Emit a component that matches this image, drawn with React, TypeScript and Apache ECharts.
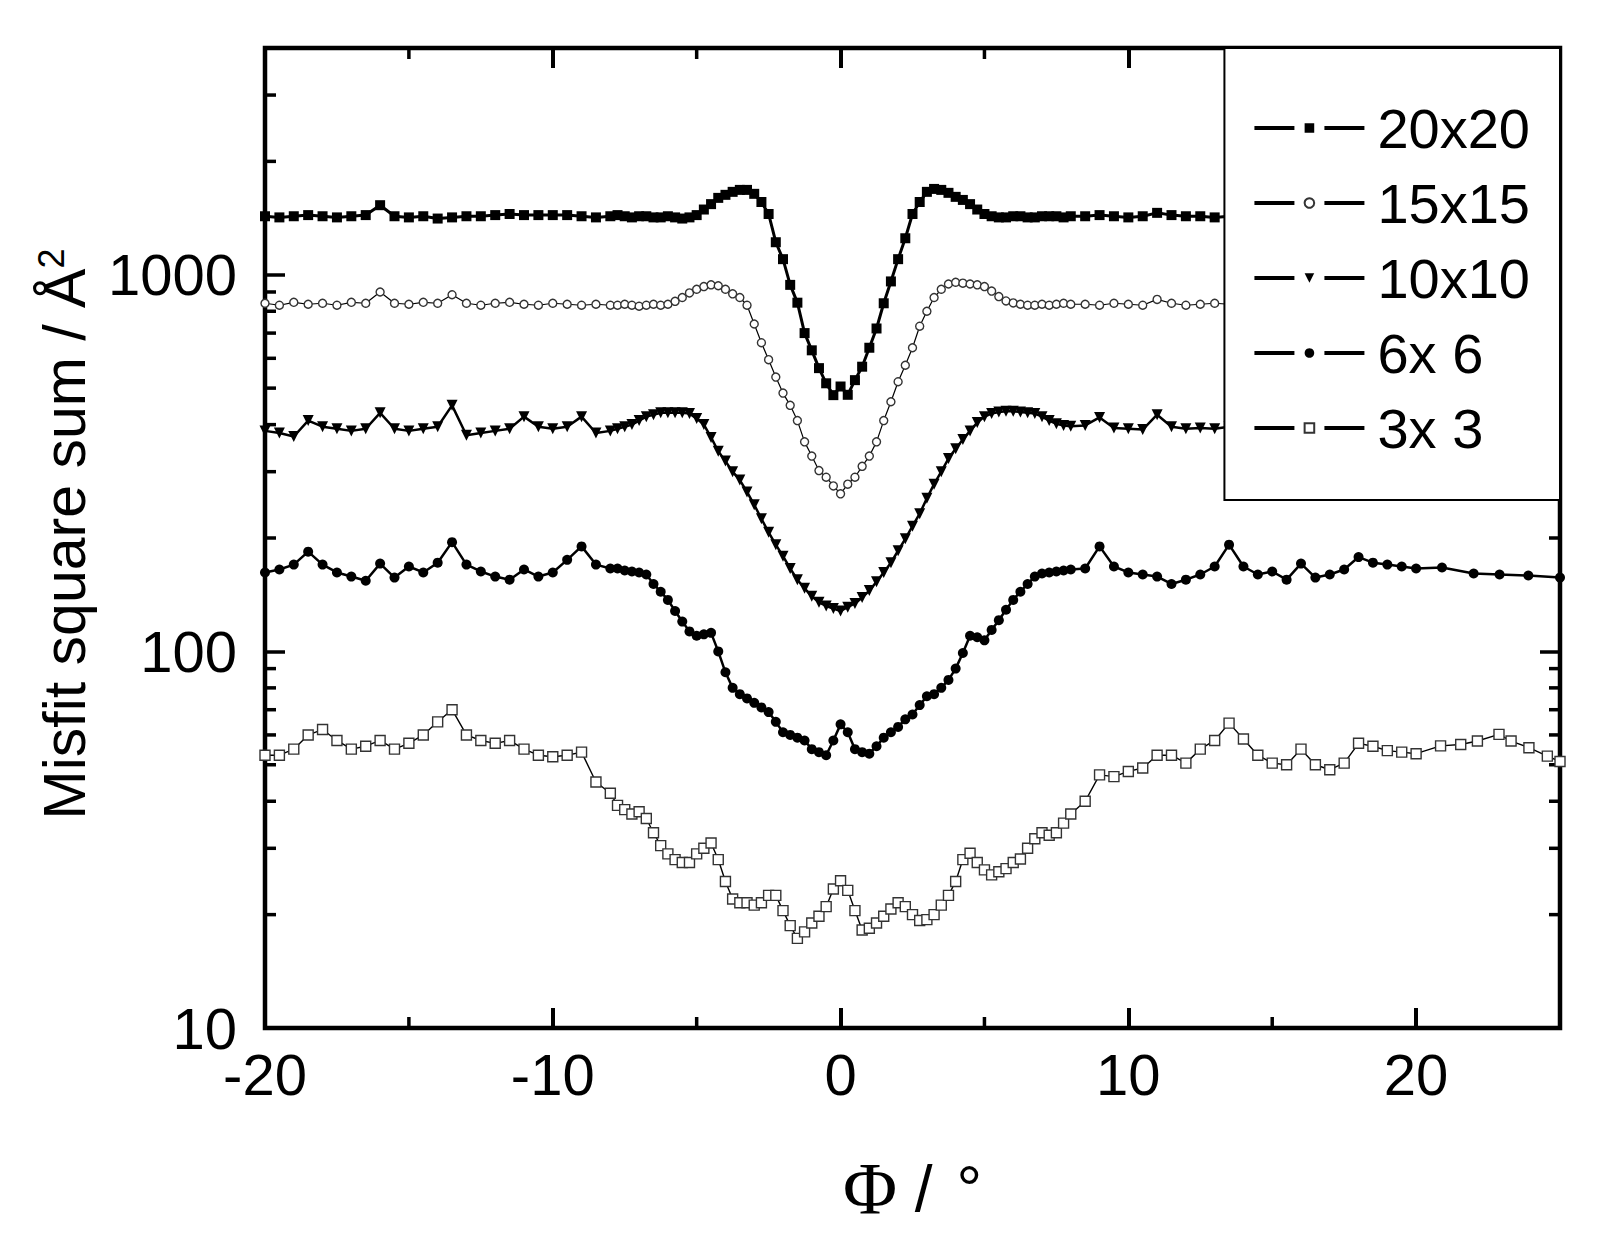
import React, { useEffect, useRef } from "react";
import * as echarts from "echarts";

// ---------- data ----------
const PHI = [
  -20, -19.5, -19, -18.5, -18, -17.5, -17, -16.5, -16, -15.5, -15, -14.5, -14, -13.5, -13, -12.5, -12, -11.5, -11, -10.5, -10, -9.5, -9, -8.5,
  -8, -7.75, -7.5, -7.25, -7, -6.75, -6.5, -6.25, -6, -5.75, -5.5, -5.25, -5, -4.75, -4.5, -4.25, -4, -3.75, -3.5, -3.25, -3, -2.75, -2.5, -2.25, -2, -1.75, -1.5, -1.25, -1, -0.75, -0.5, -0.25,
  0, 0.25, 0.5, 0.75, 1, 1.25, 1.5, 1.75, 2, 2.25, 2.5, 2.75, 3, 3.25, 3.5, 3.75, 4, 4.25, 4.5, 4.75, 5, 5.25, 5.5, 5.75, 6, 6.25, 6.5, 6.75, 7, 7.25, 7.5, 7.75, 8,
  8.5, 9, 9.5, 10, 10.5, 11, 11.5, 12, 12.5, 13, 13.5, 14, 14.5, 15, 15.5, 16, 16.5, 17, 17.5, 18, 18.5, 19, 19.5, 20,
];

const S20 = [
  1430, 1420, 1430, 1440, 1430, 1420, 1430, 1440, 1530, 1430, 1420, 1430, 1410, 1420, 1430, 1430, 1440, 1450, 1440, 1440, 1440, 1440, 1430, 1420,
  1430, 1440, 1430, 1420, 1430, 1430, 1420, 1420, 1430, 1420, 1410, 1420, 1440, 1490, 1540, 1600, 1630, 1660, 1680, 1680, 1640, 1560, 1450, 1220, 1100, 940, 843, 700, 630, 565, 515, 479,
  505, 480, 525, 570, 640, 720, 840, 960, 1100, 1250, 1450, 1560, 1660, 1690, 1680, 1650, 1610, 1580, 1540, 1490, 1450, 1430, 1420, 1420, 1430, 1430, 1420, 1420, 1430, 1430, 1430, 1420, 1430,
  1430, 1440, 1430, 1420, 1430, 1460, 1440, 1430, 1430, 1420, 1430, 1440, 1430, 1420, 1430, 1440, 1430, 1420, 1430, 1440, 1430, 1430, 1420, 1430,
];

const S15 = [
  840, 830, 845, 835, 840, 830, 845, 840, 900, 840, 835, 845, 840, 885, 840, 830, 840, 845, 835, 830, 840, 835, 830, 835,
  830, 830, 835, 830, 825, 830, 835, 830, 835, 850, 870, 895, 915, 930, 940, 935, 915, 890, 870, 830, 740, 660, 595, 535, 485, 450, 410, 360, 330, 302, 290, 275,
  262, 278, 290, 310, 330, 360, 410, 460, 520, 575, 640, 730, 800, 870, 915, 945, 955, 950, 945, 940, 930, 905, 875, 852, 842, 835, 830, 830, 835, 830, 835, 840, 835,
  835, 830, 840, 835, 830, 860, 840, 830, 835, 840, 835, 840, 830, 840, 835, 840, 830, 840, 835, 845, 835, 840, 835, 840,
];

const S10 = [
  385, 380, 372, 410, 395, 390, 385, 390, 430, 390, 385, 390, 395, 450, 375, 380, 385, 390, 420, 395, 390, 395, 420, 380,
  385, 390, 395, 400, 410, 420, 425, 430, 430, 430, 430, 428, 415, 400, 370, 340, 320, 300, 285, 265, 245, 225, 207, 192, 179, 166, 155, 147, 140, 135, 132, 130,
  128, 131, 134, 139, 145, 153, 162, 172, 185, 199, 215, 232, 255, 278, 300, 325, 345, 365, 385, 405, 420, 428, 432, 434, 434, 432, 430, 428, 420, 410, 402, 398, 396,
  398, 418, 392, 390, 388, 425, 395, 390, 392, 390, 395, 390, 392, 388, 390, 395, 392, 390, 392, 395, 390, 392, 390, 392,
];

const S6 = [
  162, 165, 170, 184, 170, 162, 158, 154, 171, 157, 168, 162, 172, 195, 170, 163, 158, 155, 165, 158, 162, 175, 190, 170,
  166, 166, 164, 163, 162, 160, 151, 144, 137, 128, 120, 113, 110, 111, 112, 100, 88, 80, 77, 75, 73, 71, 69, 65, 61, 60, 59, 58, 55, 54, 53, 58,
  64, 61, 55, 54, 53.5, 56, 59, 61, 63, 66, 68, 72, 76, 77, 80, 84, 90, 99, 110, 109, 107, 114, 121, 129, 137, 144, 151, 158, 161, 162, 163, 164, 165,
  166, 190, 168, 162, 160, 158, 151, 155, 160, 168, 192, 168, 160, 163, 155, 171, 157, 160, 165, 178, 172, 170, 168, 166,
];
const TAIL6_X = [20.9, 22, 22.9, 23.9, 25];
const TAIL6_Y = [167, 161, 160, 159, 157];

const S3 = [
  53, 53, 55, 60, 62, 58, 55, 56, 58, 55, 57, 60, 65, 70, 60, 58, 57, 58, 55, 53, 52.5, 53, 54, 45,
  42, 39, 38, 37, 37.5, 36, 33, 30.5, 29, 28, 27.5, 27.5, 29, 30, 31, 28, 24.5, 22, 21.5, 21.5, 21.2, 21.5, 22.5, 22.5, 20.5, 18.7, 17.3, 18, 19, 19.8, 21, 23.4,
  24.6, 23.2, 20.5, 18.2, 18.4, 19, 19.8, 20.7, 21.5, 21, 20, 19.3, 19.4, 20, 21.2, 22.5, 24.5, 28, 29.1, 27.5, 26.3, 25.5, 26, 26.5, 27.5, 28.1, 30, 31.8, 33, 32.5, 33, 35, 37,
  40, 47, 46.5, 48, 49, 53, 53, 50.5, 55, 58, 64.5, 58.5, 53, 50.5, 50, 55, 50, 48.5, 50.5, 57, 56, 54.5, 54, 53.5,
];
const TAIL3_X = [20.85, 21.55, 22.13, 22.88, 23.3, 23.92, 24.56, 25];
const TAIL3_Y = [56.1, 56.6, 57.8, 60.2, 57.8, 55.5, 52.7, 51];

const NAMES = ["20x20", "15x15", "10x10", "6x 6", "3x 3"];

const X_MIN = -20;
const X_MAX = 25;
const Y_MIN = 10;
const Y_MAX = 4000;
const X_MINOR = [-15, -5, 5, 15];
const Y_MINOR = [20, 30, 40, 50, 60, 70, 80, 90, 200, 300, 400, 500, 600, 700, 800, 900, 2000, 3000];
const Y_LABELS = [10, 100, 1000];

const FONT = '"Liberation Sans", Arial, Helvetica, sans-serif';
const SERIF = '"Liberation Serif", "Times New Roman", serif';

function pairs(xs: number[], ys: number[]) {
  return xs.map((x, i) => [x, ys[i]]);
}

export default function App() {
  const ref = useRef<HTMLDivElement>(null);

  useEffect(() => {
    document.body.style.margin = "0";
    const chart = echarts.init(ref.current!, undefined, { renderer: "svg" });

    const lineSeries = (
      name: string,
      data: number[][],
      symbol: string,
      size: number,
      filled: boolean,
      rotate = 0,
      lw = 2
    ) => ({
      name,
      type: "line",
      data,
      symbol,
      symbolSize: size,
      symbolRotate: rotate,
      showAllSymbol: true,
      xAxisIndex: 0,
      yAxisIndex: 0,
      lineStyle: { color: "#000", width: lw },
      itemStyle: filled
        ? { color: "#000" }
        : { color: "#fff", borderColor: "#333", borderWidth: 1.4 },
      emphasis: { disabled: true },
      z: 2,
    });

    const tickLine = (x1: number, y1: number, x2: number, y2: number) => ({
      type: "line",
      shape: { x1, y1, x2, y2 },
      style: { stroke: "#000", lineWidth: 3.5 },
    });

    const hiddenLine = { show: false, onZero: false };

    const option: any = {
      animation: false,
      backgroundColor: "#fff",
      grid: {
        left: 265,
        right: 50,
        top: 48,
        bottom: 228,
        show: true,
        borderColor: "#000",
        borderWidth: 4.5,
        backgroundColor: "transparent",
      },
      xAxis: [
        {
          type: "value",
          min: X_MIN,
          max: X_MAX,
          interval: 10,
          position: "bottom",
          axisLine: hiddenLine,
          splitLine: { show: false },
          axisTick: { inside: true, length: 20, lineStyle: { width: 4, color: "#000" } },
          axisLabel: {
            margin: 17,
            fontSize: 58,
            color: "#000",
            fontFamily: FONT,
            showMinLabel: true,
            formatter: (v: number) => (Math.abs(v % 10) < 1e-9 ? String(v) : ""),
          },
          name: "{p|Φ}{b| / }{d|°}",
          nameLocation: "middle",
          nameGap: 126,
          nameTextStyle: {
            rich: {
              p: { fontFamily: SERIF, fontSize: 74, color: "#000", lineHeight: 70 },
              b: { fontFamily: FONT, fontSize: 64, color: "#000", lineHeight: 70 },
              d: { fontFamily: FONT, fontSize: 64, color: "#000", lineHeight: 70, padding: [0, 0, 0, 6] },
            },
          },
        },
        {
          type: "value",
          min: X_MIN,
          max: X_MAX,
          interval: 10,
          position: "top",
          axisLine: hiddenLine,
          splitLine: { show: false },
          axisTick: { inside: true, length: 20, lineStyle: { width: 4, color: "#000" } },
          axisLabel: { show: false },
        },
      ],
      yAxis: [
        {
          type: "log",
          logBase: 10,
          min: Y_MIN,
          max: Y_MAX,
          position: "left",
          axisLine: hiddenLine,
          splitLine: { show: false },
          minorTick: { show: false },
          axisTick: { inside: true, length: 20, lineStyle: { width: 3.5, color: "#000" } },
          axisLabel: {
            margin: 28,
            fontSize: 58,
            color: "#000",
            fontFamily: FONT,
            showMinLabel: true,
            formatter: (v: number) => {
              const hit = Y_LABELS.find((t) => Math.abs(v - t) < t * 1e-6);
              return hit !== undefined ? String(hit) : "";
            },
          },
          name: "{a|Misfit square sum / Å}{s|2}",
          nameLocation: "middle",
          nameGap: 168,
          nameTextStyle: {
            padding: [0, 0, 0, 8],
            rich: {
              a: { fontFamily: FONT, fontSize: 59, color: "#000", lineHeight: 64 },
              s: { fontFamily: FONT, fontSize: 36, color: "#000", lineHeight: 36, verticalAlign: "top" },
            },
          },
        },
        {
          type: "log",
          logBase: 10,
          min: Y_MIN,
          max: Y_MAX,
          position: "right",
          axisLine: hiddenLine,
          splitLine: { show: false },
          axisTick: { inside: true, length: 20, lineStyle: { width: 3.5, color: "#000" } },
          axisLabel: { show: false },
        },
      ],
      legend: {
        data: NAMES,
        orient: "vertical",
        right: 50,
        top: 48,
        backgroundColor: "#fff",
        borderColor: "#000",
        borderWidth: 2,
        padding: [50, 30, 42, 28],
        itemWidth: 110,
        itemHeight: 12,
        itemGap: 15,
        selectedMode: false,
        lineStyle: { width: 4, color: "#000", type: [40, 30] },
        textStyle: {
          fontSize: 56,
          fontFamily: FONT,
          color: "#000",
          lineHeight: 60,
          padding: [0, 0, 0, 8],
        },
      },
      series: [
        lineSeries(NAMES[0], pairs(PHI, S20), "rect", 10, true, 0, 3),
        lineSeries(NAMES[1], pairs(PHI, S15), "circle", 8, false, 0, 1.2),
        lineSeries(NAMES[2], pairs(PHI, S10), "triangle", 11, true, 180, 2.5),
        lineSeries(NAMES[3], pairs(PHI, S6).concat(pairs(TAIL6_X, TAIL6_Y)), "circle", 10, true, 0, 2.5),
        lineSeries(NAMES[4], pairs(PHI, S3).concat(pairs(TAIL3_X, TAIL3_Y)), "rect", 10, false, 0, 1.4),
        {
          type: "custom",
          xAxisIndex: 0,
          yAxisIndex: 0,
          silent: true,
          z: 2,
          data: X_MINOR.map((v) => [v, Y_MIN]),
          renderItem: (_p: any, api: any) => {
            const v = api.value(0);
            const b = api.coord([v, Y_MIN]);
            const t = api.coord([v, Y_MAX]);
            return {
              type: "group",
              children: [
                tickLine(b[0], b[1], b[0], b[1] - 11),
                tickLine(t[0], t[1], t[0], t[1] + 11),
              ],
            };
          },
        },
        {
          type: "custom",
          xAxisIndex: 0,
          yAxisIndex: 0,
          silent: true,
          z: 2,
          data: Y_MINOR.map((v) => [X_MIN, v]),
          renderItem: (_p: any, api: any) => {
            const v = api.value(1);
            const l = api.coord([X_MIN, v]);
            const r = api.coord([X_MAX, v]);
            return {
              type: "group",
              children: [
                tickLine(l[0], l[1], l[0] + 11, l[1]),
                tickLine(r[0], r[1], r[0] - 11, r[1]),
              ],
            };
          },
        },
      ],
    };

    chart.setOption(option);
    return () => chart.dispose();
  }, []);

  return <div ref={ref} style={{ width: 1610, height: 1256 }} />;
}
